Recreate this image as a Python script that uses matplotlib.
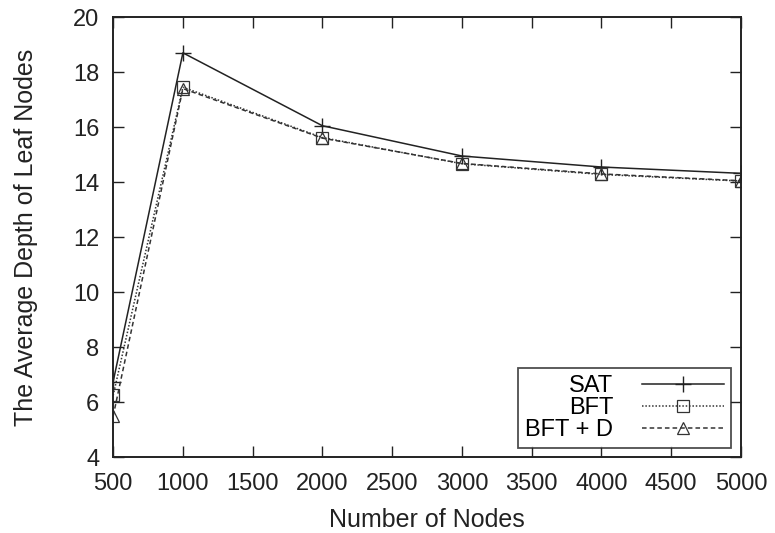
import matplotlib
matplotlib.use('Agg')
import matplotlib.pyplot as plt

plt.rcParams['font.family'] = ['Liberation Sans', 'DejaVu Sans']

# 数据
nodes = [500, 1000, 2000, 3000, 4000, 5000]
sat = [6.75, 18.7, 16.05, 14.95, 14.55, 14.32]
bft = [6.25, 17.45, 15.62, 14.67, 14.28, 14.04]
bft_d = [5.5, 17.4, 15.6, 14.68, 14.3, 14.05]
x_ticks = [500, 1000, 1500, 2000, 2500, 3000, 3500, 4000, 4500, 5000]
y_ticks = [4, 6, 8, 10, 12, 14, 16, 18, 20]


def main():
    fig = plt.figure(figsize=(7.75, 5.33), dpi=100)
    ax = fig.add_axes([0.146, 0.142, 0.81, 0.826])

    ax.plot(nodes, sat, color='#222222', lw=1.1, ls='-', marker='+',
            ms=12, mew=1.0, label='SAT')
    ax.plot(nodes, bft, color='#333333', lw=1.1, ls=(0, (1, 1.2)), marker='s',
            ms=8, mfc='none', mew=0.9, label='BFT')
    ax.plot(nodes, bft_d, color='#333333', lw=1.1, ls=(0, (3, 2)), marker='^',
            ms=8, mfc='none', mew=0.9, label='BFT + D')

    ax.set_xlim(500, 5000)
    ax.set_ylim(4, 20)
    ax.set_xticks(x_ticks)
    ax.set_yticks(y_ticks)
    ax.tick_params(direction='in', length=8, width=1.0, top=True, right=True,
                   labelsize=17, colors='#222222')
    ax.tick_params(axis='y', pad=10)
    ax.tick_params(axis='x', pad=11)
    for s in ax.spines.values():
        s.set_linewidth(1.4)
        s.set_color('#222222')

    ax.set_xlabel('Number of Nodes', fontsize=18, color='#222222', labelpad=10)
    ax.set_ylabel('The Average Depth of Leaf Nodes', fontsize=18, color='#222222',
                  labelpad=25)

    # markerfirst=False -> 文字在左, 自动右对齐
    leg = ax.legend(loc='lower right', markerfirst=False, fontsize=17,
                    frameon=True, fancybox=False, handlelength=3.5,
                    borderpad=0.3, labelspacing=0.0, handletextpad=1.2,
                    borderaxespad=0.4)
    leg.get_frame().set_edgecolor('#222222')
    leg.get_frame().set_linewidth(1.3)

    fig.savefig('out.png', dpi=100)


if __name__ == '__main__':
    main()
